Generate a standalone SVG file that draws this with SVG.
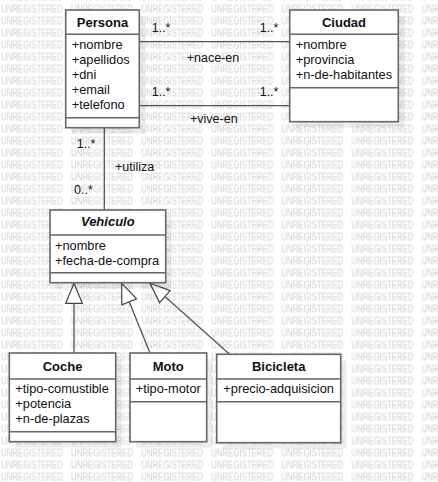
<svg xmlns="http://www.w3.org/2000/svg" width="438" height="482" viewBox="0 0 438 482">
<defs>
<pattern id="wm" patternUnits="userSpaceOnUse" x="1" y="0.5" width="70.1" height="12">
<text x="0" y="11.8" font-family="Liberation Sans, Arial, sans-serif" font-size="10" fill="#d0d0d0" textLength="62" lengthAdjust="spacingAndGlyphs">UNREGISTERED</text>
</pattern>
</defs>
<style>
.box{fill:#fff;stroke:#666;stroke-width:1.6}
.sh{fill:#000;fill-opacity:0.07}
.div{stroke:#666;stroke-width:1.6}
.t{font-family:"Liberation Sans",Arial,sans-serif;font-size:13px;font-weight:bold;fill:#111;text-anchor:middle}
.a{font-family:"Liberation Sans",Arial,sans-serif;font-size:12.8px;fill:#111}
.l{font-family:"Liberation Sans",Arial,sans-serif;font-size:12.5px;fill:#111}
.c{stroke:#555;stroke-width:1.3;fill:none}
.tri{fill:#fff;stroke:#444;stroke-width:1.2}
</style>
<rect width="438" height="482" fill="#fff"/>
<rect width="438" height="482" fill="url(#wm)"/>
<g id="connectors">
<line class="c" x1="139.3" y1="41.7" x2="289.7" y2="41.7"/>
<line class="c" x1="139.3" y1="105.7" x2="289.7" y2="105.7"/>
<line class="c" x1="104.3" y1="127.7" x2="104.3" y2="210"/>
<line class="c" x1="74" y1="303.3" x2="74" y2="353"/>
<line class="c" x1="129.2" y1="301.8" x2="150" y2="353"/>
<line class="c" x1="164.9" y1="296.6" x2="229.3" y2="354"/>
<polygon class="tri" points="74,283.3 82.3,303.3 65.7,303.3"/>
<polygon class="tri" points="121.7,283.3 136.6,298.8 121.8,304.8"/>
<polygon class="tri" points="150,283.3 170.2,290.6 159.6,302.6"/>
<text class="l" x="151.7" y="32.3">1..*</text>
<text class="l" x="259.7" y="32.3">1..*</text>
<text class="l" x="186.7" y="61.7">+nace-en</text>
<text class="l" x="151.7" y="96">1..*</text>
<text class="l" x="259.7" y="96">1..*</text>
<text class="l" x="190" y="123.3">+vive-en</text>
<text class="l" x="76.7" y="148.3">1..*</text>
<text class="l" x="115" y="170.7">+utiliza</text>
<text class="l" x="74" y="194.3">0..*</text>
</g>
<g id="persona">
<rect class="sh" x="71.7" y="16" width="73.6" height="117.7"/>
<rect class="box" x="65.7" y="10" width="73.6" height="117.7"/>
<line class="div" x1="65.7" y1="34.3" x2="139.3" y2="34.3"/>
<line class="div" x1="65.7" y1="117.7" x2="139.3" y2="117.7"/>
<text class="t" x="102.5" y="26.7">Persona</text>
<text class="a" x="71.7" y="49.3">+nombre</text>
<text class="a" x="71.7" y="64.3">+apellidos</text>
<text class="a" x="71.7" y="79.3">+dni</text>
<text class="a" x="71.7" y="94.3">+email</text>
<text class="a" x="71.7" y="109.3">+telefono</text>
</g>
<g id="ciudad">
<rect class="sh" x="295.7" y="16" width="108.6" height="111.7"/>
<rect class="box" x="289.7" y="10" width="108.6" height="111.7"/>
<line class="div" x1="289.7" y1="34.3" x2="398.3" y2="34.3"/>
<line class="div" x1="289.7" y1="87.7" x2="398.3" y2="87.7"/>
<text class="t" x="344" y="26.7">Ciudad</text>
<text class="a" x="295.7" y="49.3">+nombre</text>
<text class="a" x="295.7" y="64.3">+provincia</text>
<text class="a" x="295.7" y="79.3">+n-de-habitantes</text>
</g>
<g id="vehiculo">
<rect class="sh" x="56" y="216" width="115.7" height="72.7"/>
<rect class="box" x="50" y="210" width="115.7" height="72.7"/>
<line class="div" x1="50" y1="235" x2="165.7" y2="235"/>
<line class="div" x1="50" y1="272.7" x2="165.7" y2="272.7"/>
<text class="t" x="107.8" y="226.3" font-style="italic">Vehiculo</text>
<text class="a" x="55" y="250">+nombre</text>
<text class="a" x="55" y="265">+fecha-de-compra</text>
</g>
<g id="coche">
<rect class="sh" x="15.3" y="359" width="106.4" height="88.7"/>
<rect class="box" x="9.3" y="353" width="106.4" height="88.7"/>
<line class="div" x1="9.3" y1="379" x2="115.7" y2="379"/>
<line class="div" x1="9.3" y1="431.7" x2="115.7" y2="431.7"/>
<text class="t" x="62.5" y="370.7">Coche</text>
<text class="a" x="15.3" y="393.3">+tipo-comustible</text>
<text class="a" x="15.3" y="408.3">+potencia</text>
<text class="a" x="15.3" y="423.3">+n-de-plazas</text>
</g>
<g id="moto">
<rect class="sh" x="136" y="359" width="76.7" height="88.7"/>
<rect class="box" x="130" y="353" width="76.7" height="88.7"/>
<line class="div" x1="130" y1="379" x2="206.7" y2="379"/>
<line class="div" x1="130" y1="401.7" x2="206.7" y2="401.7"/>
<text class="t" x="168.3" y="370.7">Moto</text>
<text class="a" x="135.7" y="393.3">+tipo-motor</text>
</g>
<g id="bicicleta">
<rect class="sh" x="222.7" y="360.3" width="124" height="88.4"/>
<rect class="box" x="216.7" y="354.3" width="124" height="88.4"/>
<line class="div" x1="216.7" y1="379" x2="340.7" y2="379"/>
<line class="div" x1="216.7" y1="401.7" x2="340.7" y2="401.7"/>
<text class="t" x="278.7" y="370.7">Bicicleta</text>
<text class="a" x="223.3" y="393.3">+precio-adquisicion</text>
</g>
</svg>
